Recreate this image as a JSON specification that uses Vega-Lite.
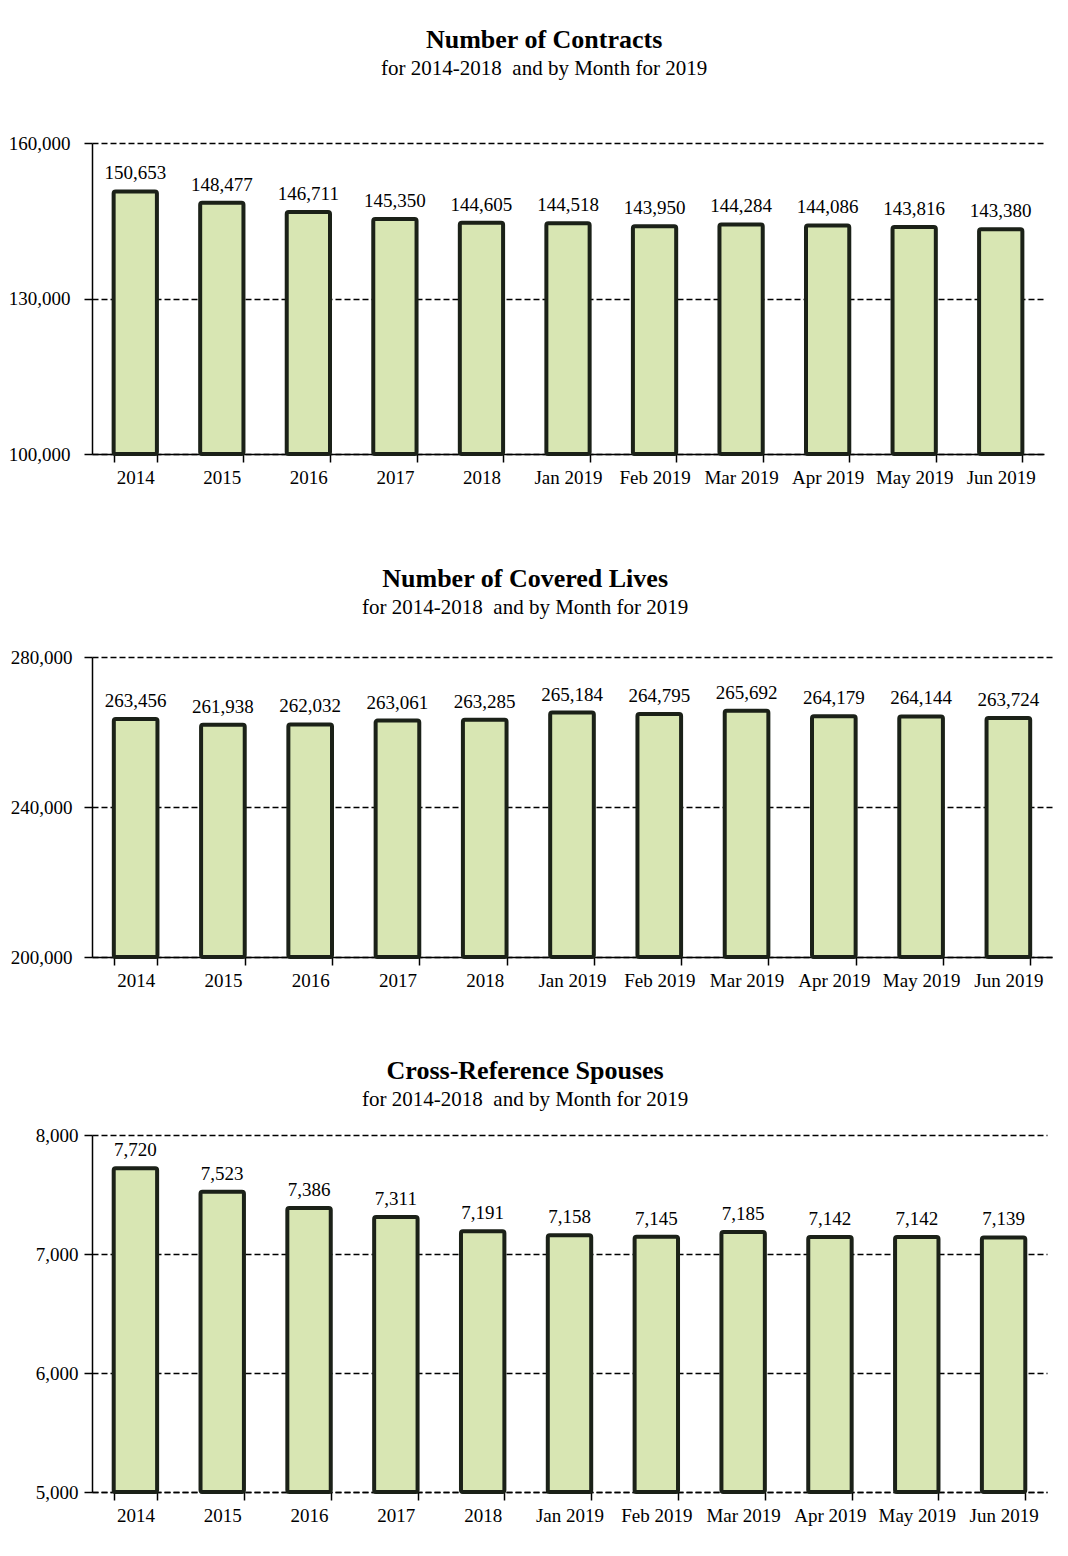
{
  "$schema": "https://vega.github.io/schema/vega-lite/v6.json",
  "padding": {"left": 8, "top": 27, "right": 10, "bottom": 5},
  "background": "white",
  "data": {"values": [
    {"period": "2014", "contracts": 150653, "lives": 263456, "spouses": 7720},
    {"period": "2015", "contracts": 148477, "lives": 261938, "spouses": 7523},
    {"period": "2016", "contracts": 146711, "lives": 262032, "spouses": 7386},
    {"period": "2017", "contracts": 145350, "lives": 263061, "spouses": 7311},
    {"period": "2018", "contracts": 144605, "lives": 263285, "spouses": 7191},
    {"period": "Jan 2019", "contracts": 144518, "lives": 265184, "spouses": 7158},
    {"period": "Feb 2019", "contracts": 143950, "lives": 264795, "spouses": 7145},
    {"period": "Mar 2019", "contracts": 144284, "lives": 265692, "spouses": 7185},
    {"period": "Apr 2019", "contracts": 144086, "lives": 264179, "spouses": 7142},
    {"period": "May 2019", "contracts": 143816, "lives": 264144, "spouses": 7142},
    {"period": "Jun 2019", "contracts": 143380, "lives": 263724, "spouses": 7139}
  ]},
  "columns": 1,
  "spacing": 79,
  "align": "none",
  "concat": [
    {
      "width": 952, "height": 311,
      "title": {"text": "Number of Contracts", "subtitle": "for 2014-2018\u00a0 and by Month for 2019", "offset": 55, "dx": 18},
      "encoding": {
        "x": {"field": "period", "type": "nominal", "sort": null,
              "scale": {"paddingInner": 0.5, "paddingOuter": 0.25}}
      },
      "layer": [
        {"mark": {"type": "bar", "fill": "#d8e6b3", "stroke": "#1b2118", "strokeWidth": 4, "cornerRadius": 2},
         "encoding": {
           "y": {"field": "contracts", "type": "quantitative",
                 "scale": {"domain": [100000, 160000], "zero": false, "nice": false},
                 "axis": {"values": [100000, 130000, 160000], "format": ",d", "labelPadding": 14}},
           "y2": {"datum": 100000}
         }},
        {"mark": {"type": "text", "baseline": "bottom", "dy": -8, "fontSize": 19, "color": "black"},
         "encoding": {
           "y": {"field": "contracts", "type": "quantitative"},
           "text": {"field": "contracts", "type": "quantitative", "format": ",d"}
         }}
      ]
    },
    {
      "columns": 1,
      "spacing": 68,
      "align": "none",
      "concat": [
        {
          "width": 960, "height": 300,
          "title": {"text": "Number of Covered Lives", "subtitle": "for 2014-2018\u00a0 and by Month for 2019", "offset": 30, "dx": -6},
          "encoding": {
            "x": {"field": "period", "type": "nominal", "sort": null,
                  "scale": {"paddingInner": 0.5, "paddingOuter": 0.25}}
          },
          "layer": [
            {"mark": {"type": "bar", "fill": "#d8e6b3", "stroke": "#1b2118", "strokeWidth": 4, "cornerRadius": 2},
             "encoding": {
               "y": {"field": "lives", "type": "quantitative",
                     "scale": {"domain": [200000, 280000], "zero": false, "nice": false},
                     "axis": {"values": [200000, 240000, 280000], "format": ",d", "labelPadding": 12}},
               "y2": {"datum": 200000}
             }},
            {"mark": {"type": "text", "baseline": "bottom", "dy": -8, "fontSize": 19, "color": "black"},
             "encoding": {
               "y": {"field": "lives", "type": "quantitative"},
               "text": {"field": "lives", "type": "quantitative", "format": ",d"}
             }}
          ]
        },
        {
          "width": 955, "height": 357,
          "title": {"text": "Cross-Reference Spouses", "subtitle": "for 2014-2018\u00a0 and by Month for 2019", "offset": 16, "dx": -16},
          "encoding": {
            "x": {"field": "period", "type": "nominal", "sort": null,
                  "scale": {"paddingInner": 0.5, "paddingOuter": 0.25},
                  "axis": {"domainDash": [6, 3]}}
          },
          "layer": [
            {"mark": {"type": "bar", "fill": "#d8e6b3", "stroke": "#1b2118", "strokeWidth": 4, "cornerRadius": 2},
             "encoding": {
               "y": {"field": "spouses", "type": "quantitative",
                     "scale": {"domain": [5000, 8000], "zero": false, "nice": false},
                     "axis": {"values": [5000, 6000, 7000, 8000], "format": ",d", "labelPadding": 6}},
               "y2": {"datum": 5000}
             }},
            {"mark": {"type": "text", "baseline": "bottom", "dy": -8, "fontSize": 19, "color": "black"},
             "encoding": {
               "y": {"field": "spouses", "type": "quantitative"},
               "text": {"field": "spouses", "type": "quantitative", "format": ",d"}
             }}
          ]
        }
      ]
    }
  ],
  "config": {
    "font": "Liberation Serif",
    "view": {"stroke": null},
    "title": {"anchor": "middle", "frame": "bounds", "fontSize": 26, "fontWeight": "bold", "color": "black",
              "subtitleFontSize": 21, "subtitleColor": "black", "subtitlePadding": 5, "subtitleFont": "Liberation Serif"},
    "axisX": {"title": null, "labelAngle": 0, "tickBand": "extent", "tickSize": 8, "tickColor": "black", "tickWidth": 1.5,
              "domainColor": "black", "domainWidth": 1.5, "labelFontSize": 19, "labelColor": "black", "labelPadding": 6, "grid": false},
    "axisY": {"title": null, "grid": true, "gridColor": "black", "gridDash": [6, 3], "gridWidth": 1.4, "gridOpacity": 1,
              "domainColor": "black", "domainWidth": 1.5, "tickColor": "black", "tickSize": 8, "tickWidth": 1.5,
              "labelFontSize": 19, "labelColor": "black"}
  }
}
